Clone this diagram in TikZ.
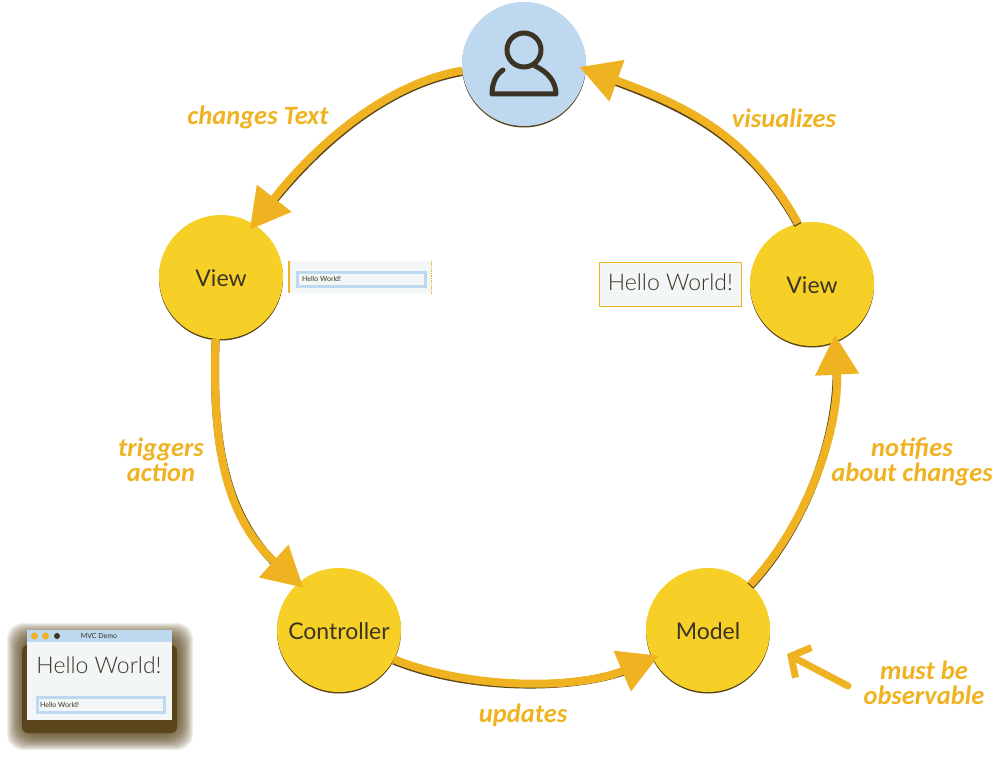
\documentclass[tikz,border=0pt]{standalone}
\usepackage{fontspec}
\setmainfont{Lato}
\newfontfamily\lightfont{Lato}[UprightFont=* Light]
\newfontfamily\handfont{Carlito}[UprightFont=* Bold Italic]
\usetikzlibrary{positioning, calc, shapes, arrows.meta, shadows}

\definecolor{viewyellow}{HTML}{F6CF27}
\definecolor{flowgold}{HTML}{EFB322}
\definecolor{userblue}{HTML}{BDD8EF}
\definecolor{darkink}{HTML}{3B3424}
\definecolor{shadowbrown}{HTML}{59441B}
\definecolor{panelgrey}{HTML}{F3F6F6}

\tikzset{
	station/.style={circle, minimum size=124pt, inner sep=0pt, fill=viewyellow, text=darkink, text height=18.5pt, text depth=0pt, font=\fontsize{23}{23}\selectfont,
		drop shadow={shadow xshift=0pt, shadow yshift=-1.5pt, opacity=1, fill=shadowbrown}},
	flow/.style={line width=8pt, draw=flowgold, shorten >=-7pt, -{Triangle[length=40pt,width=42pt]}},
	flowback/.style={line width=8pt, draw=shadowbrown, shorten >=20pt, transform canvas={yshift=-1.5pt}},
	remark/.style={text=flowgold, align=center, font=\handfont\fontsize{26.5}{24.5}\selectfont},
	panel/.style={fill=panelgrey, inner sep=0pt, anchor=north west},
	field/.style={fill=panelgrey, draw=userblue, line width=2.5pt, inner sep=0pt, anchor=north west},
	greeting/.style={text=darkink, inner sep=0pt, font=\lightfont\fontsize{23}{23}\selectfont},
	tinytext/.style={text=darkink, inner sep=0pt, font=\fontsize{7}{7}\selectfont},
}

\begin{document}
\begin{tikzpicture}[x=1pt, y=-1pt]
	\useasboundingbox (0, 0) rectangle (992, 757);

	\node[station, fill=userblue] (user) at (524, 64) {};
	\node[station] (viewleft) at (221, 277) {View};
	\node[station] (viewright) at (812, 284) {View};
	\node[station] (controller) at (339, 630) {Controller};
	\node[station] (model) at (708, 630) {Model};

	\draw[darkink, line width=5pt] (524, 50) circle (17);
	\draw[darkink, line width=5pt, line cap=round, line join=round] (503, 70) .. controls (495, 75) and (492, 85) .. (492, 94) -- (556, 94) .. controls (556, 82) and (548, 72) .. (535, 66);

	\foreach \from/\to/\leave/\enter/\pull in {user.186/viewleft.58/190/52/0.85, viewleft.265/controller.131/268/138/1, controller.332/model.207/338/203/0.8, model.47/viewright.292/47/273/0.85, viewright.103/user.355/119/340/1} {
		\draw[flowback] (\from) to[out=\leave, in=\enter, looseness=\pull] (\to);
		\draw[flow] (\from) to[out=\leave, in=\enter, looseness=\pull] (\to);
	}

	\node[remark] (changes) at (258, 117) {changes Text};
	\node[remark] (visualizes) at (784, 118) {visualizes};
	\node[remark] (triggers) at (161, 460) {triggers\\action};
	\node[remark] (notifies) at (912, 462) {notifies\\about changes};
	\node[remark] (updates) at (523, 715) {updates};
	\node[remark] (observable) at (924, 683) {must be\\observable};

	\coordinate (notetail) at (848, 686);
	\coordinate (notetip) at (787, 654);
	\draw[flowgold, line width=7pt, line cap=round, -{Straight Barb[length=14pt,width=34pt]}] (notetail) -- (notetip);

	% text field next to the left view
	\node[panel, minimum width=142pt, minimum height=32pt] (smallpanel) at (289, 261) {};
	\draw[flowgold, line width=1.2pt] (smallpanel.north west) -- (smallpanel.south west);
	\draw[flowgold, line width=0.7pt, densely dotted] (smallpanel.north east) -- (smallpanel.south east);
	\node[field, minimum width=128pt, minimum height=14pt] (smallfield) at (296, 271) {};
	\node[tinytext, right=6pt of smallfield.west] (smalltext) {Hello World!};

	% label next to the right view
	\node[panel, draw=flowgold, line width=0.7pt, minimum width=142pt, minimum height=44pt] (bigpanel) at (599, 262) {};
	\node[greeting, yshift=2.5pt] (bigtext) at (bigpanel.center) {Hello World!};

	% demo window
	\foreach \grow in {0, ..., 20} {
		\fill[shadowbrown, opacity=0.09, rounded corners=16pt] (27-\grow, 643-\grow) rectangle (173+\grow, 730+\grow);
	}
	\fill[shadowbrown, rounded corners=6pt] (22, 645) rectangle (177, 733);
	\node[panel, minimum width=145pt, minimum height=90pt] (window) at (27, 630) {};
	\node[panel, fill=userblue, minimum width=145pt, minimum height=12pt] (titlebar) at (27, 630) {};
	\node[circle, fill=flowgold, minimum size=7pt, inner sep=0pt] (closebutton) at (34.5, 636) {};
	\node[circle, fill=flowgold, minimum size=7pt, inner sep=0pt] (minbutton) at (45.5, 636) {};
	\node[circle, fill=darkink, minimum size=6pt, inner sep=0pt] (zoombutton) at (57, 636) {};
	\node[tinytext] (windowtitle) at (99, 636) {MVC Demo};
	\node[greeting] (windowtext) at (99, 665) {Hello World!};
	\node[field, minimum width=127pt, minimum height=15pt] (windowfield) at (36, 696) {};
	\node[tinytext, right=4pt of windowfield.west] (fieldtext) {Hello World!};
\end{tikzpicture}
\end{document}
